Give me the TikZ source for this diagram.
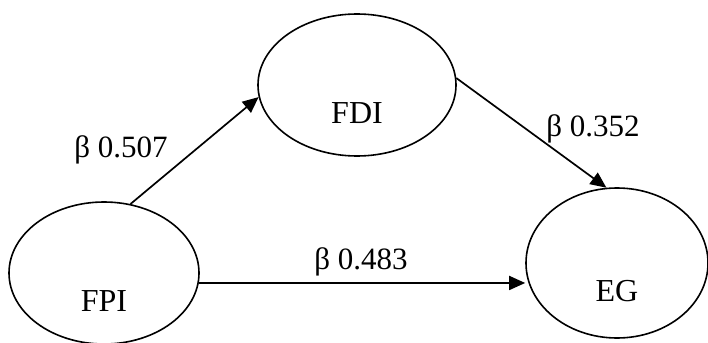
\documentclass[tikz,border=0pt]{standalone}
\usepackage{fontspec}
\setmainfont{Liberation Serif}
\usetikzlibrary{shapes.geometric,arrows.meta}
\begin{document}
\begin{tikzpicture}[x=1pt,y=-1pt,
  latent/.style={ellipse,draw,line width=1.6pt,inner sep=0pt},
  nm/.style={font=\fontsize{32}{36}\selectfont,anchor=base,yshift=-28pt},
  coef/.style={font=\fontsize{31}{36}\selectfont,anchor=base,inner sep=0pt},
  path/.style={line width=1.7pt,-{Triangle[length=16pt,width=14pt]}}]
\useasboundingbox (0,0) rectangle (708,342);
\node[latent,minimum width=198pt,minimum height=142pt,label={[nm]center:FDI}] (fdi) at (357,85) {};
\node[latent,minimum width=190pt,minimum height=142pt,label={[nm]center:FPI}] (fpi) at (104,273) {};
\node[latent,minimum width=182pt,minimum height=150pt,label={[nm]center:EG}] (eg) at (617,263) {};
\draw[path] (fpi.69) -- (fdi.187);
\draw[path] (fdi.4) -- (eg.98);
\draw[path] (fpi.-6) -- (fpi.-6 -| eg.west);
\node[coef] (b1) at (121,157) {β 0.507};
\node[coef] (b2) at (593,136) {β 0.352};
\node[coef] (b3) at (361,269) {β 0.483};
\end{tikzpicture}
\end{document}
